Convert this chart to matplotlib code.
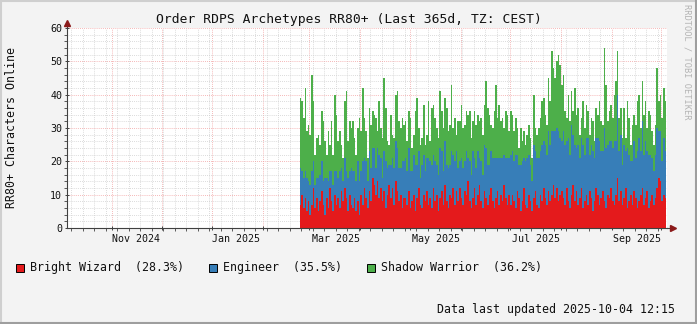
import matplotlib
matplotlib.use("Agg")
import matplotlib.pyplot as plt
import matplotlib.dates as mdates
import numpy as np
import pandas as pd
from matplotlib.lines import Line2D
from matplotlib.patches import Rectangle
import matplotlib.transforms as mtransforms

# daily values from 2025-02-23 to 2025-10-03
first_day = "2025-02-23"
bright_wizard = [
    7, 10, 6, 9, 5, 8, 4, 7, 12, 6, 9, 5, 8, 11, 7, 4, 9, 6, 12, 8, 5, 10, 7, 9, 6, 11, 8, 12, 9, 5, 10, 7,
    6, 9, 5, 8, 4, 10, 7, 12, 9, 6, 11, 8, 15, 13, 10, 14, 9, 12, 8, 11, 6, 10, 13, 9, 12, 7, 14, 11, 8, 10, 6, 9,
    9, 7, 11, 6, 8, 10, 5, 9, 12, 7, 6, 10, 8, 11, 7, 9, 6, 12, 8, 10, 5, 9, 11, 7, 13, 8, 6, 10, 9, 12, 7, 11,
    8, 12, 9, 7, 11, 10, 14, 8, 6, 9, 12, 7, 10, 13, 8, 6, 11, 9, 7, 10, 12, 8, 6, 9, 11, 7, 10, 8, 13, 9, 7, 10,
    7, 10, 8, 6, 11, 9, 5, 8, 12, 7, 6, 10, 8, 5, 9, 11, 7, 6, 10, 8, 12, 9, 7, 11, 8, 10, 13, 9, 12, 8, 10, 11,
    9, 7, 12, 8, 6, 10, 13, 8, 11, 7, 9, 12, 6, 8, 10, 7, 11, 9, 5, 8, 12, 10, 7, 9, 11, 8, 6, 10, 9, 12, 8, 7,
    10, 15, 8, 11, 7, 9, 12, 6, 8, 10, 7, 11, 9, 6, 8, 10, 12, 7, 9, 11, 6, 8, 10, 7, 9, 12, 15, 14, 8, 10, 9,
]
engineer = [
    11, 7, 9, 8, 10, 6, 9, 10, 8, 7, 6, 10, 8, 9, 7, 11, 6, 8, 5, 9, 8, 7, 10, 6, 11, 7, 6, 9, 8, 10, 7, 11,
    11, 8, 9, 12, 10, 7, 13, 9, 11, 8, 12, 10, 9, 11, 8, 10, 13, 9, 7, 12, 14, 8, 6, 10, 9, 11, 12, 13, 10, 8, 14, 11,
    12, 10, 13, 11, 9, 12, 14, 10, 11, 8, 13, 12, 9, 10, 14, 11, 13, 10, 12, 9, 11, 15, 12, 10, 13, 11, 12, 9, 14, 10, 13, 12,
    10, 8, 12, 11, 9, 13, 7, 12, 10, 14, 9, 11, 13, 8, 12, 10, 14, 15, 12, 9, 11, 13, 15, 12, 10, 14, 11, 13, 9, 12, 14, 11,
    15, 13, 12, 16, 11, 10, 14, 12, 9, 13, 15, 12, 11, 9, 16, 12, 14, 15, 13, 17, 14, 16, 15, 18, 17, 19, 16, 20, 18, 21, 17, 15,
    20, 18, 14, 19, 16, 21, 15, 17, 13, 18, 12, 15, 19, 14, 17, 20, 11, 16, 18, 13, 15, 17, 19, 14, 12, 22, 18, 15, 17, 14, 16, 19,
    16, 25, 15, 17, 12, 16, 11, 18, 14, 10, 13, 15, 12, 17, 19, 13, 20, 15, 17, 12, 16, 14, 11, 10, 13, 18, 14, 15, 12, 17, 14,
]
shadow_warrior = [
    21, 21, 18, 25, 14, 17, 15, 29, 18, 9, 12, 13, 9, 15, 18, 11, 7, 15, 8, 15, 9, 23, 17, 11, 12, 7, 7, 17, 24, 11, 15, 12,
    15, 10, 8, 10, 19, 12, 22, 12, 9, 7, 13, 13, 11, 10, 15, 5, 16, 9, 12, 22, 16, 8, 6, 15, 7, 9, 14, 17, 14, 12, 13, 11,
    11, 9, 11, 16, 7, 6, 16, 20, 7, 10, 8, 15, 8, 7, 17, 6, 17, 15, 13, 11, 11, 17, 12, 13, 13, 17, 11, 12, 20, 8, 13, 5,
    14, 12, 16, 12, 11, 12, 13, 15, 11, 9, 14, 13, 11, 11, 13, 12, 12, 20, 17, 15, 8, 9, 14, 22, 12, 16, 11, 12, 8, 14, 13, 8,
    13, 11, 9, 11, 8, 5, 11, 6, 8, 5, 7, 9, 8, 7, 15, 7, 7, 9, 10, 13, 13, 9, 9, 16, 13, 24, 19, 16, 20, 23, 22, 17,
    17, 10, 7, 13, 10, 10, 7, 17, 10, 11, 7, 6, 13, 8, 10, 8, 6, 8, 9, 5, 9, 7, 12, 9, 8, 24, 19, 7, 9, 11, 9, 14,
    18, 13, 10, 8, 8, 11, 4, 14, 11, 5, 11, 8, 10, 15, 13, 7, 12, 12, 12, 7, 13, 12, 8, 8, 9, 18, 9, 11, 13, 15, 15,
]
series_names = ["Bright Wizard", "Engineer", "Shadow Warrior"]
series_share = ["28.3%", "35.5%", "36.2%"]
colors = ["#E41A1C", "#377EB8", "#4DAF4A"]
tick_labels = ["Nov 2024", "Jan 2025", "Mar 2025", "May 2025", "Jul 2025", "Sep 2025"]
tick_label_dates = ["2024-11-15 12:00", "2025-01-15 12:00", "2025-03-17", "2025-05-17", "2025-07-17", "2025-09-16"]

plt.rcParams["font.family"] = "DejaVu Sans Mono"

W, H = 697, 324
fig = plt.figure(figsize=(W / 100, H / 100), dpi=100, facecolor="#F3F3F3")
ax = fig.add_axes([67 / W, (H - 228) / H, 600 / W, 200 / H])
ax.set_facecolor("white")

edges = mdates.date2num(pd.date_range(first_day, periods=len(bright_wizard) + 1, freq="D"))
base = np.zeros(len(bright_wizard))
for vals, c in zip([bright_wizard, engineer, shadow_warrior], colors):
    top = base + np.array(vals)
    ax.stairs(top, edges, baseline=base, fill=True, color=c, lw=0, zorder=2)
    base = top

x0 = mdates.date2num(pd.Timestamp("2024-10-04 12:15"))
x1 = mdates.date2num(pd.Timestamp("2025-10-04 12:15"))
ax.set_xlim(x0, x1)
ax.set_ylim(0, 60)

ax.xaxis.set_major_locator(mdates.MonthLocator())
ax.xaxis.set_minor_locator(mdates.WeekdayLocator(byweekday=mdates.MO))
ax.xaxis.set_major_formatter(plt.NullFormatter())
ax.set_yticks(range(0, 61, 10))
ax.set_yticks(range(0, 61, 2), minor=True)

ax.set_axisbelow(True)
ax.grid(which="minor", color="#CFCFCF", ls=(0, (1, 1.5)), lw=0.6)
ax.grid(which="major", color="#F2A0A0", ls=(0, (1, 1.5)), lw=0.6)

for s in ["top", "right"]:
    ax.spines[s].set_visible(False)
for s in ["left", "bottom"]:
    ax.spines[s].set_color("#404040")
    ax.spines[s].set_linewidth(0.8)
    ax.spines[s].set_zorder(3)
ax.tick_params(which="major", length=3, width=0.7, color="#404040", direction="inout",
               labelsize=7.2, pad=2, labelcolor="#111111")
ax.tick_params(which="minor", length=2, width=0.6, color="#404040", direction="out")

# axis arrows
ax.plot([0, 0], [1, 1.025], transform=ax.transAxes, color="#404040", lw=0.8, clip_on=False)
ax.plot([1, 1.01], [0, 0], transform=ax.transAxes, color="#404040", lw=0.8, clip_on=False)
ax.plot([0], [1.025], marker="^", ms=4, color="#8B1A1A", transform=ax.transAxes, clip_on=False)
ax.plot([1.01], [0], marker=">", ms=4, color="#8B1A1A", transform=ax.transAxes, clip_on=False)

trans = mtransforms.blended_transform_factory(ax.transData, ax.transAxes)
for lab, d in zip(tick_labels, tick_label_dates):
    ax.text(mdates.date2num(pd.Timestamp(d)), -0.03, lab, transform=trans, ha="center", va="top",
            fontsize=7.2, color="#111111")

fig.text(0.5, 1 - 19 / H, "Order RDPS Archetypes RR80+ (Last 365d, TZ: CEST)",
         ha="center", va="center", fontsize=9.4, color="#111111")
fig.text(12 / W, 1 - 128 / H, "RR80+ Characters Online", rotation=90,
         ha="center", va="center", fontsize=8.4, color="#111111")
fig.text(687 / W, 1 - 62 / H, "RRDTOOL / TOBI OETIKER", rotation=270,
         ha="center", va="center", fontsize=6.2, color="#B4B4B4")

legend_x = [16, 209, 367]
for i in range(3):
    fig.add_artist(Rectangle((legend_x[i] / W, 1 - 272 / H), 8 / W, 8 / H, facecolor=colors[i],
                             edgecolor="black", lw=0.7, transform=fig.transFigure))
    fig.text((legend_x[i] + 14) / W, 1 - 268 / H, f"{series_names[i]}  ({series_share[i]})",
             ha="left", va="center", fontsize=8.4, color="#111111")

fig.text(675 / W, 1 - 310 / H, "Data last updated 2025-10-04 12:15",
         ha="right", va="center", fontsize=8.4, color="#111111")

# frame shading
fig.add_artist(Line2D([0, 1], [1 - 1 / H, 1 - 1 / H], color="#CFCFCF", lw=1.5, transform=fig.transFigure))
fig.add_artist(Line2D([1 / W, 1 / W], [0, 1], color="#CFCFCF", lw=1.5, transform=fig.transFigure))
fig.add_artist(Line2D([0, 1], [1 / H, 1 / H], color="#9E9E9E", lw=1.5, transform=fig.transFigure))
fig.add_artist(Line2D([1 - 1 / W, 1 - 1 / W], [0, 1], color="#9E9E9E", lw=1.5, transform=fig.transFigure))

fig.savefig("out.png", dpi=100, facecolor=fig.get_facecolor())
